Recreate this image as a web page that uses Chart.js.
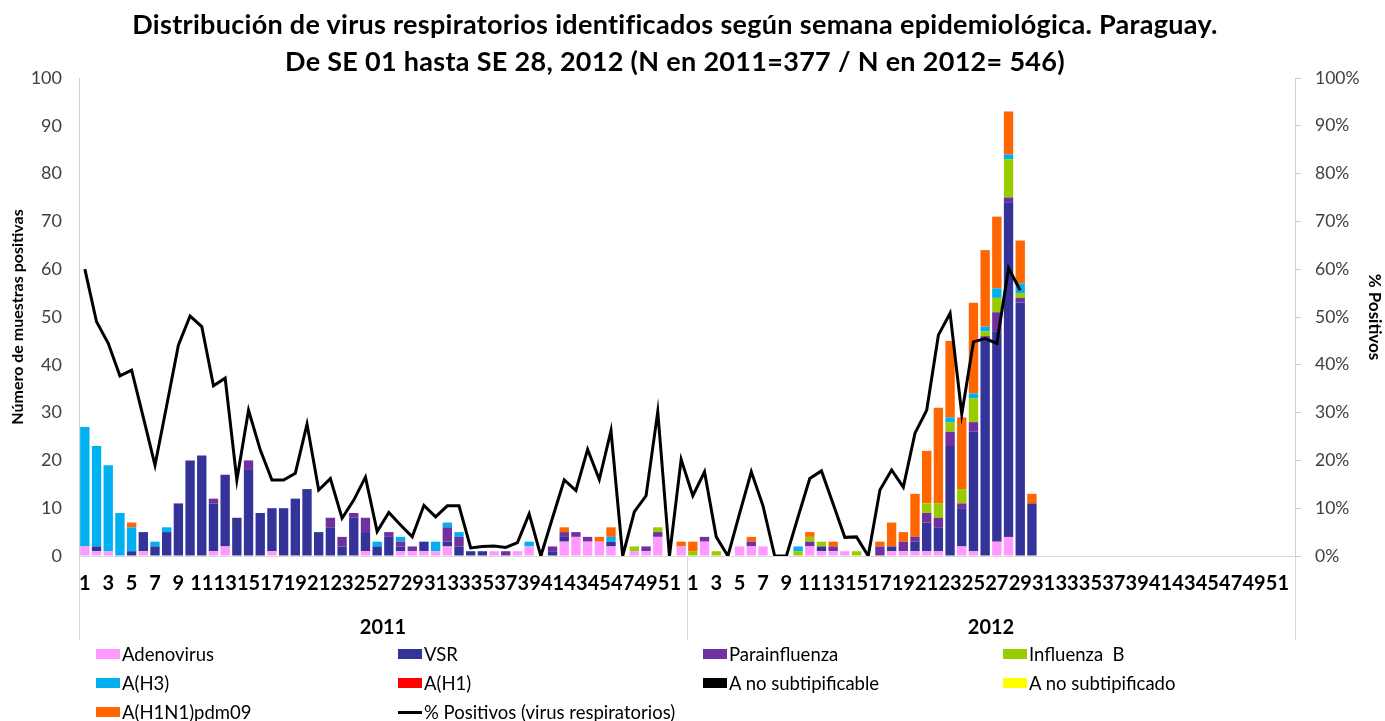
<!DOCTYPE html>
<html>
<head>
<meta charset="utf-8">
<script src="https://cdn.jsdelivr.net/npm/chart.js@4.4.1/dist/chart.umd.min.js"></script>
<style>
  html, body { margin: 0; padding: 0; background: #fff; }
  #wrap { position: relative; width: 1385px; height: 721px; font-family: Lato, 'Open Sans', sans-serif; }
  #chart { position: absolute; left: 0; top: 0; }
  #title { position: absolute; left: 0; top: 5px; width: 1350px; text-align: center;
    font-weight: bold; font-size: 27px; letter-spacing: 0.3px; line-height: 37px; color: #000; }
  #legend { position: absolute; left: 0; top: 640px; width: 1385px; height: 81px; font-size: 18.5px; color: #000; }
  .item { position: absolute; display: flex; align-items: center; height: 20px; white-space: pre; }
  .box { width: 24px; height: 10px; margin-right: 2px; }
  .ln { width: 24px; height: 3px; background: #000; margin-right: 2px; }
</style>
</head>
<body>
<div id="wrap">
  <canvas id="chart" width="1385" height="721"></canvas>
  <div id="title">Distribución de virus respiratorios identificados según semana epidemiológica. Paraguay.<br>De SE 01 hasta SE 28, 2012 (N en 2011=377 / N en 2012= 546)</div>
  <div id="legend"></div>
</div>
<script>
const YEARS = ['2011', '2012'];
const WEEKS_PER_YEAR = 52;

// week numbers 1..52 for each year
const LABELS = [];
for (const y of YEARS) for (let w = 1; w <= WEEKS_PER_YEAR; w++) LABELS.push(String(w));

// stacked counts, 2011 weeks 1-52 then 2012 weeks 1-52
const ADENOVIRUS = [
  2,1,1,0,0,1,0,0,0,0,0,1,2,0,0,0,1,0,0,0,0,0,0,0,1,0,0,1,1,1,1,2,0,0,0,1,0,1,2,0,0,3,4,3,3,2,0,1,1,4,0,2,
  0,3,0,0,2,2,2,0,0,0,2,1,1,1,0,0,0,1,1,1,1,1,0,2,1,0,3,4,0,0,0,0,0,0,0,0,0,0,0,0,0,0,0,0,0,0,0,0,0,0,0,0
];
const VSR = [
  0,1,0,0,1,4,2,5,11,20,21,10,15,8,18,9,9,10,12,14,5,6,2,8,4,2,4,1,0,2,0,1,2,1,1,0,0,0,0,0,1,1,0,0,0,1,0,0,0,0,0,0,
  0,0,0,0,0,0,0,0,0,0,0,1,0,0,0,0,0,1,0,2,6,5,23,8,25,45,44,70,53,11,0,0,0,0,0,0,0,0,0,0,0,0,0,0,0,0,0,0,0,0,0,0
];
const PARAINFLUENZA = [
  0,0,0,0,0,0,0,0,0,0,0,1,0,0,2,0,0,0,0,0,0,2,2,1,3,0,1,1,1,0,0,3,2,0,0,0,1,0,0,0,1,1,1,1,0,0,0,0,1,1,0,0,
  0,1,0,0,0,1,0,0,0,0,1,0,1,0,0,0,2,0,2,1,2,2,3,1,2,1,4,1,1,0,0,0,0,0,0,0,0,0,0,0,0,0,0,0,0,0,0,0,0,0,0,0
];
const INFLUENZA_B = [
  0,0,0,0,0,0,0,0,0,0,0,0,0,0,0,0,0,0,0,0,0,0,0,0,0,0,0,0,0,0,0,0,0,0,0,0,0,0,0,0,0,0,0,0,0,0,0,1,0,1,0,0,
  1,0,1,0,0,0,0,0,0,1,1,1,0,0,1,0,0,0,0,0,2,3,2,3,5,1,3,8,1,0,0,0,0,0,0,0,0,0,0,0,0,0,0,0,0,0,0,0,0,0,0,0
];
const A_H3 = [
  25,21,18,9,5,0,1,1,0,0,0,0,0,0,0,0,0,0,0,0,0,0,0,0,0,1,0,1,0,0,2,1,1,0,0,0,0,0,1,0,0,0,0,0,0,1,0,0,0,0,0,0,
  0,0,0,0,0,0,0,0,0,1,0,0,0,0,0,0,0,0,0,0,0,0,1,0,1,1,2,1,2,0,0,0,0,0,0,0,0,0,0,0,0,0,0,0,0,0,0,0,0,0,0,0
];
const A_H1 = new Array(104).fill(0);
const A_NO_SUBTIPIFICABLE = new Array(104).fill(0);
const A_NO_SUBTIPIFICADO = new Array(104).fill(0);
const A_H1N1_PDM09 = [
  0,0,0,0,1,0,0,0,0,0,0,0,0,0,0,0,0,0,0,0,0,0,0,0,0,0,0,0,0,0,0,0,0,0,0,0,0,0,0,0,0,1,0,0,1,2,0,0,0,0,0,1,
  2,0,0,0,0,1,0,0,0,0,1,0,1,0,0,0,1,5,2,9,11,20,16,15,19,16,15,9,9,2,0,0,0,0,0,0,0,0,0,0,0,0,0,0,0,0,0,0,0,0
];
// % positivos, 2011 wk1 .. 2012 wk29
const PCT_POSITIVOS = [
  60,49,44.5,37.7,38.9,29,19,31.5,44.1,50.2,48,35.6,37.2,15.9,30.5,22.2,15.9,15.9,17.3,27.6,13.8,16.2,7.9,11.7,16.5,5.1,
  9.1,6.5,4,10.6,8.2,10.5,10.5,1.7,2,2.1,1.8,2.8,8.8,0,8,15.9,13.7,22.3,16,26.2,0,9.3,12.6,30.2,0,20.2,
  12.6,17.6,4,0,8.9,17.6,10.5,0,0,8.2,16.2,17.8,10.9,3.9,4,0,13.8,18,14.4,25.7,30.5,46.2,50.8,29.7,44.8,45.5,44.5,60.2,55.6
];

const SERIES = [
  { label: 'Adenovirus', data: ADENOVIRUS, color: '#FF99FF' },
  { label: 'VSR', data: VSR, color: '#333399' },
  { label: 'Parainfluenza', data: PARAINFLUENZA, color: '#7030A0' },
  { label: 'Influenza  B', data: INFLUENZA_B, color: '#99CC00' },
  { label: 'A(H3)', data: A_H3, color: '#00B0F0' },
  { label: 'A(H1)', data: A_H1, color: '#FF0000' },
  { label: 'A no subtipificable', data: A_NO_SUBTIPIFICABLE, color: '#000000' },
  { label: 'A no subtipificado', data: A_NO_SUBTIPIFICADO, color: '#FFFF00' },
  { label: 'A(H1N1)pdm09', data: A_H1N1_PDM09, color: '#FF6600' },
];
const LINE_LABEL = '% Positivos (virus respiratorios)';

const FONT = "Lato, 'Open Sans', sans-serif";

const datasets = SERIES.map(s => ({
  type: 'bar',
  label: s.label,
  data: s.data,
  backgroundColor: s.color,
  borderWidth: 0,
  barPercentage: 0.8,
  categoryPercentage: 1.0,
  stack: 'v',
  yAxisID: 'y',
  order: 1,
}));
datasets.push({
  type: 'line',
  label: LINE_LABEL,
  data: PCT_POSITIVOS,
  borderColor: '#000',
  borderWidth: 3,
  pointRadius: 0,
  tension: 0,
  fill: false,
  yAxisID: 'y1',
  order: 0,
});

// year row below the week numbers, with the separators between years
const yearRowPlugin = {
  id: 'yearRow',
  afterDraw(chart) {
    const { ctx, chartArea } = chart;
    const x = chart.scales.x;
    const catW = (x.right - x.left) / LABELS.length;
    ctx.save();
    ctx.strokeStyle = '#d9d9d9';
    ctx.lineWidth = 1;
    for (let k = 0; k <= YEARS.length; k++) {
      const px = Math.round(x.left + k * WEEKS_PER_YEAR * catW) + 0.5;
      ctx.beginPath();
      ctx.moveTo(px, chartArea.bottom);
      ctx.lineTo(px, chartArea.bottom + 84);
      ctx.stroke();
    }
    ctx.fillStyle = '#000';
    ctx.font = 'bold 20px ' + FONT;
    ctx.textAlign = 'center';
    ctx.textBaseline = 'middle';
    YEARS.forEach((yr, k) => {
      ctx.fillText(yr, x.left + (k + 0.5) * WEEKS_PER_YEAR * catW, chartArea.bottom + 72);
    });
    ctx.restore();
  },
};

new Chart(document.getElementById('chart'), {
  data: { labels: LABELS, datasets },
  plugins: [yearRowPlugin],
  options: {
    responsive: false,
    animation: false,
    layout: { padding: { top: 78, bottom: 81, left: 0, right: 0 } },
    plugins: { legend: { display: false }, tooltip: { enabled: false }, title: { display: false } },
    scales: {
      x: {
        stacked: true,
        afterFit: s => { s.height = 84; },
        grid: { display: false, drawTicks: false },
        border: { display: true, color: '#d9d9d9' },
        ticks: {
          autoSkip: false, maxRotation: 0, minRotation: 0, padding: 16,
          color: '#000', font: { family: FONT, size: 20, weight: 'bold' },
          callback: (v, i) => (i % 2 === 0 ? LABELS[i] : ''),
        },
      },
      y: {
        stacked: true,
        position: 'left',
        min: 0, max: 100,
        afterFit: s => { s.width = 79; },
        grid: { drawOnChartArea: false, drawTicks: false },
        border: { display: true, color: '#d0d0d0' },
        ticks: { stepSize: 10, padding: 17, color: '#404040', font: { family: FONT, size: 18 } },
        title: { display: true, text: 'Número de muestras positivas', color: '#000', padding: { top: 8, bottom: 0 },
          font: { family: FONT, size: 16, weight: 'bold' } },
      },
      y1: {
        position: 'right',
        min: 0, max: 100,
        afterFit: s => { s.width = 90; },
        grid: { drawOnChartArea: false, drawTicks: true, tickLength: 6, color: '#d0d0d0' },
        border: { display: true, color: '#d0d0d0' },
        ticks: { stepSize: 10, padding: 14, color: '#404040', font: { family: FONT, size: 17.5 },
          callback: v => v + '%' },
        title: { display: true, text: '% Positivos', color: '#000', padding: { top: 0, bottom: 0 },
          font: { family: FONT, size: 17, weight: 'bold' } },
      },
    },
  },
});

// legend in four columns, same order as the reference
const COL_X = [96, 398, 703, 1003];
const ROW_Y = [4, 33, 62];
const legend = document.getElementById('legend');
const entries = SERIES.map(s => ({ label: s.label, color: s.color }));
entries.push({ label: LINE_LABEL, line: true });
entries.forEach((e, i) => {
  const el = document.createElement('div');
  el.className = 'item';
  el.style.left = COL_X[i % 4] + 'px';
  el.style.top = ROW_Y[Math.floor(i / 4)] + 'px';
  const mark = document.createElement('span');
  mark.className = e.line ? 'ln' : 'box';
  if (!e.line) mark.style.background = e.color;
  el.appendChild(mark);
  el.appendChild(document.createTextNode(e.label));
  legend.appendChild(el);
});
</script>
</body>
</html>
